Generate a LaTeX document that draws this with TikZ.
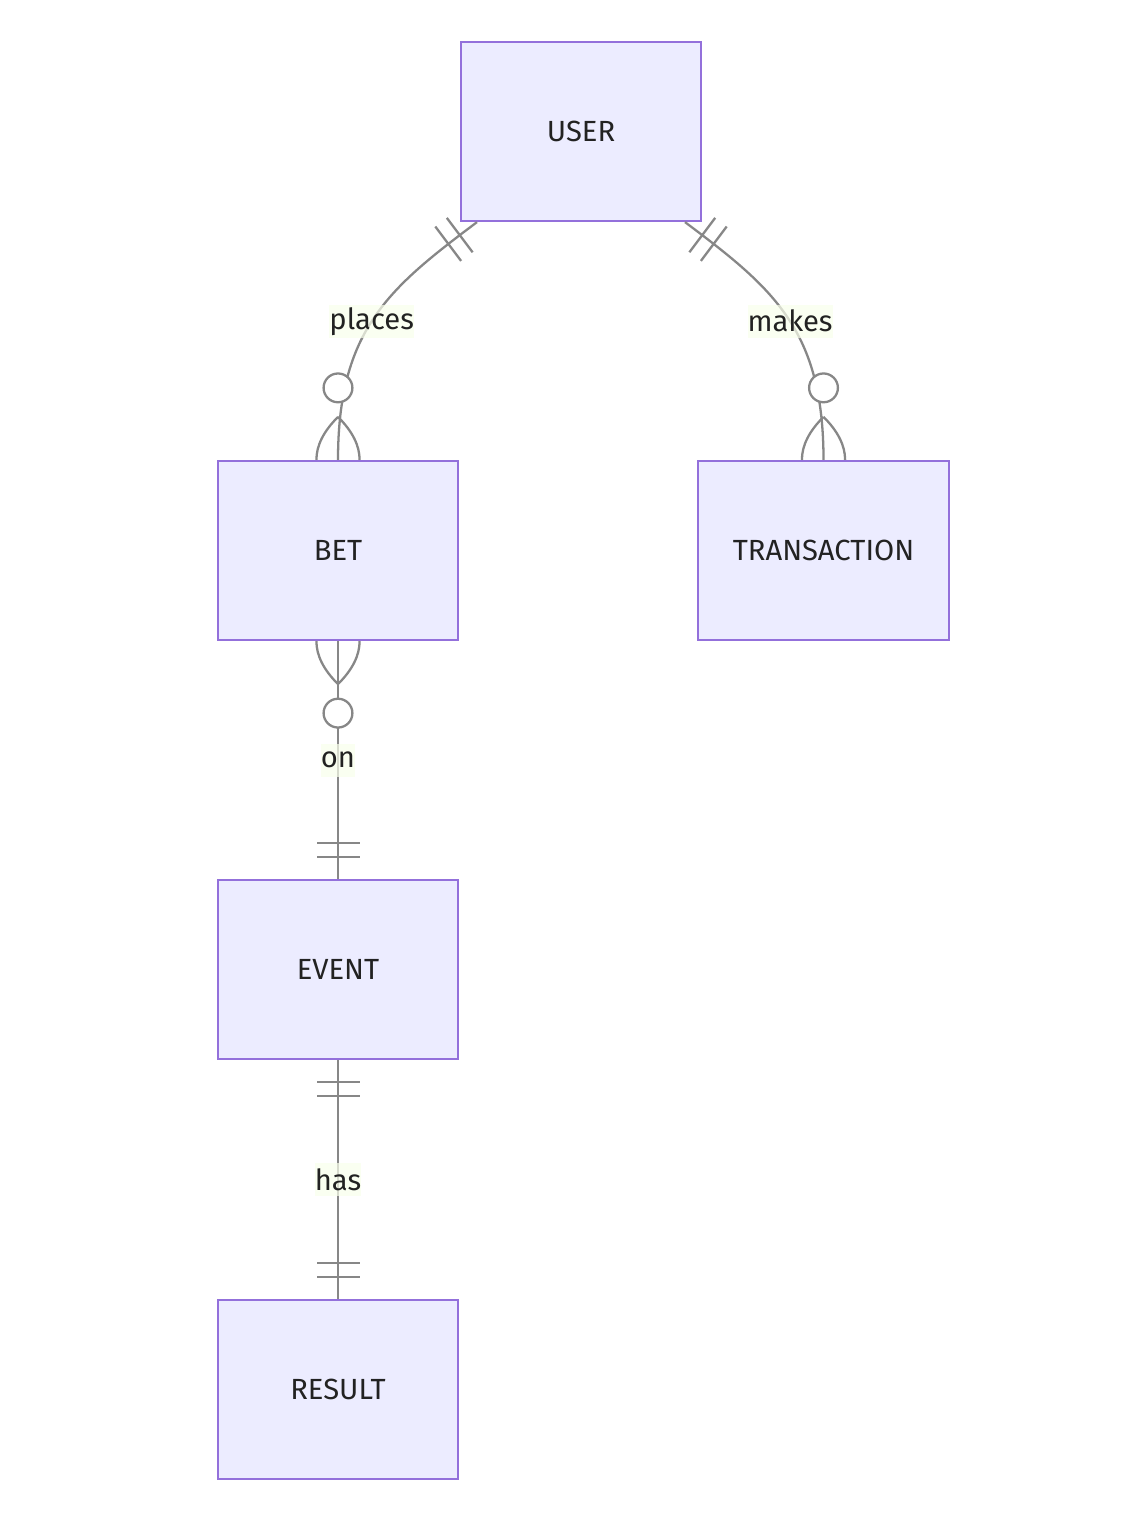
\documentclass[tikz,border=0pt]{standalone}
\usepackage{fontspec}
\setmainfont{Fira Sans}
\usetikzlibrary{positioning,calc,decorations.markings}
\definecolor{boxfill}{HTML}{ECECFF}
\definecolor{boxline}{HTML}{9370DB}
\definecolor{relgray}{HTML}{878787}
\definecolor{lblfill}{HTML}{F9FFEC}
\definecolor{txt}{HTML}{222222}
\newcommand\erfont{\fontsize{16.6}{20}\selectfont}
% cardinality marks, #1 = 1 at the start of a path, -1 at its end
\newcommand\onlyonemark[1]{%
\draw[rel] (#1*21.6,-21.5) -- (#1*21.6,21.5) (#1*36,-21.5) -- (#1*36,21.5);}
\newcommand\zeromanymark[1]{%
\draw[rel] (#1*43,0) .. controls (#1*28.6,14.4) and (#1*14.4,21.6) .. (0,21.6);
\draw[rel] (#1*43,0) .. controls (#1*28.6,-14.4) and (#1*14.4,-21.6) .. (0,-21.6);
\draw[rel,fill=white] (#1*72,0) circle[radius=14.4];}
\tikzset{
entity/.style={draw=boxline,fill=boxfill,line width=1.3pt,minimum width=4.8cm,minimum height=3.58cm,inner sep=0pt,font=\erfont,text=txt},
rel/.style={draw=relgray,line width=1.3pt},
rellabel/.style={fill=lblfill,fill opacity=0.7,text opacity=1,inner xsep=0pt,inner ysep=0pt,minimum height=0.66cm,font=\erfont,text=txt},
onestart/.style={postaction={decorate,decoration={markings,mark=at position 0 with {\onlyonemark{1}}}}},
oneend/.style={postaction={decorate,decoration={markings,mark=at position 1 with {\onlyonemark{-1}}}}},
manystart/.style={postaction={decorate,decoration={markings,mark=at position 0 with {\zeromanymark{1}}}}},
manyend/.style={postaction={decorate,decoration={markings,mark=at position 1 with {\zeromanymark{-1}}}}}
}
\begin{document}
\begin{tikzpicture}[x=0.02cm,y=-0.02cm]
\fill[white] (0,0) rectangle (1138,1520);
\useasboundingbox (0,0) rectangle (1138,1520);
% entities
\node[entity] (user) at (581,131.5) {USER};
\node[entity] (bet) at (338,550.5) {BET};
\node[entity,minimum width=5.02cm] (trans) at (823.5,550.5) {TRANSACTION};
\node[entity] (event) at (338,969.5) {EVENT};
\node[entity] (result) at (338,1389.5) {RESULT};
% relationships
\draw[rel,onestart,manyend] ($(user.south)+(-104,0)$) .. controls +(-88,66) and +(0,-130) .. (bet.north)
  node[rellabel,pos=0.52] (lplaces) {places};
\draw[rel,onestart,manyend] ($(user.south)+(104,0)$) .. controls +(88,66) and +(0,-130) .. (trans.north)
  node[rellabel,pos=0.52] (lmakes) {makes};
\draw[rel,manystart,oneend] (bet.south) -- (event.north) node[rellabel,midway] (lon) {on};
\draw[rel,onestart,oneend] (event.south) -- (result.north) node[rellabel,midway] (lhas) {has};
\end{tikzpicture}
\end{document}
